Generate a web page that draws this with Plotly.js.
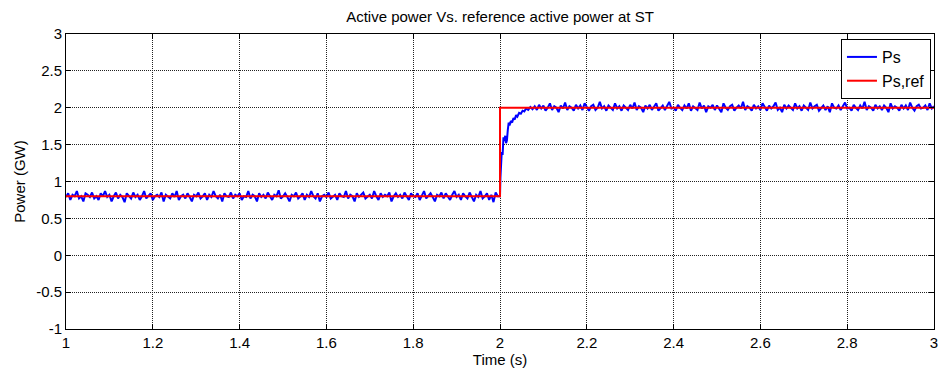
<!DOCTYPE html>
<html>
<head>
<meta charset="utf-8">
<script src="https://cdn.plot.ly/plotly-3.0.1.min.js"></script>
<style>html,body{margin:0;padding:0;background:#fff;}#chart{width:943px;height:374px;}</style>
</head>
<body>
<div id="chart"></div>
<script>
// ---- data ----
var preStart = 1.0, preStep = 0.005;
var psPre = [
0.79,0.84,0.75,0.82,0.80,0.87,0.77,0.80,0.73,0.84,0.82,0.79,0.85,0.77,0.80,0.75,0.84,0.80,0.87,0.79,
0.82,0.73,0.80,0.85,0.77,0.82,0.79,0.72,0.84,0.80,0.77,0.85,0.79,0.82,0.75,0.80,0.87,0.77,0.80,0.84,
0.75,0.80,0.82,0.79,0.85,0.73,0.82,0.80,0.77,0.84,0.79,0.87,0.75,0.80,0.82,0.77,0.84,0.79,0.73,0.82,
0.80,0.85,0.77,0.80,0.84,0.75,0.82,0.79,0.87,0.80,0.77,0.82,0.73,0.84,0.80,0.79,0.85,0.77,0.82,0.80,
0.84,0.75,0.80,0.79,0.87,0.77,0.82,0.80,0.73,0.84,0.79,0.82,0.77,0.85,0.80,0.75,0.82,0.80,0.88,0.77,
0.80,0.84,0.79,0.73,0.82,0.80,0.85,0.77,0.80,0.84,0.75,0.82,0.79,0.87,0.80,0.77,0.84,0.73,0.80,0.82,
0.79,0.85,0.77,0.80,0.82,0.75,0.84,0.80,0.79,0.87,0.77,0.82,0.80,0.73,0.84,0.79,0.82,0.85,0.77,0.80,
0.82,0.77,0.87,0.80,0.75,0.84,0.79,0.82,0.80,0.85,0.73,0.80,0.84,0.79,0.82,0.77,0.85,0.80,0.75,0.84,
0.80,0.79,0.84,0.75,0.82,0.87,0.77,0.80,0.84,0.79,0.73,0.82,0.80,0.85,0.77,0.84,0.80,0.75,0.82,0.87,
0.79,0.82,0.75,0.84,0.80,0.77,0.85,0.80,0.73,0.82,0.79,0.87,0.77,0.80,0.84,0.75,0.82,0.72,0.85,0.80
];
var transT = [2.000,2.001,2.002,2.004,2.006,2.008,2.010,2.012,2.014,2.016,2.018,2.020,2.022,2.025,2.028,2.031,2.034,2.037,2.040,2.044,2.048,2.052,2.056,2.060,2.065,2.070,2.075];
var transPs = [0.80,1.05,1.30,1.40,1.36,1.60,1.55,1.62,1.52,1.56,1.70,1.80,1.76,1.82,1.80,1.86,1.84,1.90,1.88,1.93,1.92,1.96,1.95,1.99,1.97,2.01,1.98];
var postStart = 2.080, postStep = 0.005;
var psPost = [
2.02,1.97,2.04,1.99,2.03,1.96,2.00,2.06,1.97,2.02,2.00,1.94,2.03,1.99,2.07,1.97,2.02,2.00,1.96,2.04,
1.99,2.03,1.97,2.06,2.00,1.96,2.02,2.04,1.97,2.00,2.08,1.99,2.02,1.96,2.03,2.00,1.97,2.06,1.99,2.02,
1.96,2.03,2.00,1.97,2.04,1.99,2.07,1.97,2.02,2.00,1.94,2.03,1.99,2.04,1.97,2.02,2.06,1.96,2.00,2.03,
1.97,2.02,2.08,1.99,2.00,1.96,2.04,2.00,1.97,2.03,1.99,2.06,1.96,2.02,2.00,1.97,2.07,1.99,2.03,1.94,
2.02,2.00,2.04,1.97,2.03,1.99,1.94,2.06,2.00,1.97,2.02,2.04,1.96,2.00,2.03,1.99,2.08,1.97,2.02,2.00,
1.96,2.04,1.99,2.02,1.97,2.06,2.00,1.96,2.03,1.99,2.02,2.07,1.97,2.00,1.94,2.04,1.99,2.03,2.00,1.97,
2.06,1.99,2.02,1.96,2.03,2.00,1.97,2.07,1.99,2.02,2.04,1.96,2.00,2.03,1.97,2.02,1.94,2.06,2.00,1.99,
2.03,1.97,2.02,2.07,1.99,2.00,1.96,2.04,2.00,1.97,2.03,1.99,2.08,1.97,2.02,2.00,1.96,2.04,1.99,2.02,
1.97,2.03,2.00,1.94,2.06,1.99,2.02,2.00,1.96,2.04,1.99,2.03,1.97,2.07,2.00,1.96,2.02,2.04,1.99,2.00,
2.03,1.97,2.06,1.99,2.02
];
var refT = [1, 2, 2, 3];
var refP = [0.8, 0.8, 2, 2];
var xTicks = [1,1.2,1.4,1.6,1.8,2,2.2,2.4,2.6,2.8,3];
var xTickText = ['1','1.2','1.4','1.6','1.8','2','2.2','2.4','2.6','2.8','3'];
var yTicks = [-1,-0.5,0,0.5,1,1.5,2,2.5,3];
var yTickText = ['-1','-0.5','0','0.5','1','1.5','2','2.5','3'];

// ---- build series ----
var psT = [], psV = [];
psPre.forEach(function(v,i){ psT.push(+(preStart + i*preStep).toFixed(4)); psV.push(v); });
transT.forEach(function(t,i){ psT.push(t); psV.push(transPs[i]); });
psPost.forEach(function(v,i){ psT.push(+(postStart + i*postStep).toFixed(4)); psV.push(v); });

var FONT = 'Liberation Sans, Arial, sans-serif';
var traces = [
  {x: psT, y: psV, type: 'scatter', mode: 'lines', name: 'Ps', legendrank: 1,
   line: {color: '#0000ff', width: 2}},
  {x: refT, y: refP, type: 'scatter', mode: 'lines', name: 'Ps,ref', legendrank: 2,
   line: {color: '#ff0000', width: 2}}
];
var axisCommon = {
  showline: true, linecolor: '#000', linewidth: 1, mirror: 'ticks',
  ticks: 'inside', ticklen: 5, tickcolor: '#000', tickwidth: 1,
  showgrid: true, gridcolor: '#222', gridwidth: 1, griddash: '1px,1px',
  zeroline: false, tickfont: {family: FONT, size: 15, color: '#000'}
};
var layout = {
  width: 943, height: 374,
  margin: {l: 66, r: 9, t: 34, b: 45},
  paper_bgcolor: '#fff', plot_bgcolor: '#fff',
  title: {text: 'Active power Vs. reference active power at ST', font: {family: FONT, size: 15, color: '#000'},
          x: 0.5, xref: 'paper', xanchor: 'center', y: 0.955, yanchor: 'middle'},
  xaxis: Object.assign({}, axisCommon, {range: [1, 3], tickmode: 'array', tickvals: xTicks, ticktext: xTickText,
          title: {text: 'Time (s)', font: {family: FONT, size: 15, color: '#000'}, standoff: 1}}),
  yaxis: Object.assign({}, axisCommon, {range: [-1, 3], tickmode: 'array', tickvals: yTicks, ticktext: yTickText,
          title: {text: 'Power (GW)', font: {family: FONT, size: 15, color: '#000'}, standoff: 6}}),
  showlegend: true,
  legend: {x: 0.9965, y: 0.983, xanchor: 'right', yanchor: 'top', bgcolor: '#fff',
           bordercolor: '#000', borderwidth: 1, font: {family: FONT, size: 16, color: '#000'},
           tracegroupgap: 0, itemwidth: 30}
};
Plotly.newPlot('chart', traces, layout, {displayModeBar: false, staticPlot: true});
</script>
</body>
</html>
